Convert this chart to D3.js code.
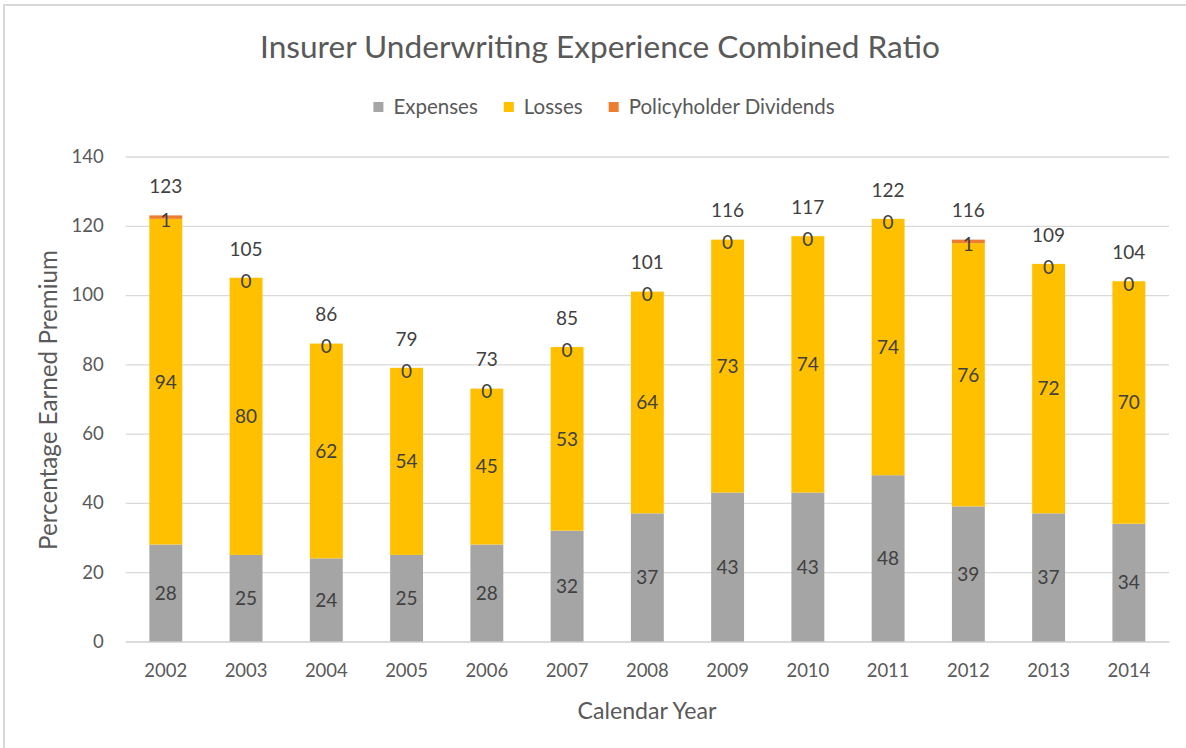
<!DOCTYPE html>
<html><head><meta charset="utf-8">
<script src="https://cdn.jsdelivr.net/npm/d3@7"></script>
<style>
html,body{margin:0;padding:0;background:#fff;}
svg{display:block;font-family:Lato,"Open Sans",sans-serif;}
</style></head>
<body>
<svg id="chart" width="1186" height="748"></svg>
<script>
const years = ["2002","2003","2004","2005","2006","2007","2008","2009","2010","2011","2012","2013","2014"];
const expenses = [28,25,24,25,28,32,37,43,43,48,39,37,34];
const losses = [94,80,62,54,45,53,64,73,74,74,76,72,70];
const dividends = [1,0,0,0,0,0,0,0,0,0,1,0,0];
const totals = [123,105,86,79,73,85,101,116,117,122,116,109,104];
const seriesNames = ["Expenses","Losses","Policyholder Dividends"];
const seriesColors = ["#A5A5A5","#FFC000","#ED7D31"];
const yTicks = [0,20,40,60,80,100,120,140];
const titleText = "Insurer Underwriting Experience Combined Ratio";
const yTitle = "Percentage Earned Premium";
const xTitle = "Calendar Year";

const svg = d3.select("#chart");
const W = 1186, H = 748;

// chart border (left/top visible)
svg.append("rect").attr("x",4).attr("y",5).attr("width",W+10).attr("height",H+10)
  .attr("fill","#fff").attr("stroke","#d9d9d9").attr("stroke-width",2);

const x = d3.scaleBand().domain(years).range([125.7,1169]).paddingInner(0.59).paddingOuter(0.295);
const y = d3.scaleLinear().domain([0,140]).range([641.5,156.5]);

function fit(sel, target){
  const w = sel.node().getComputedTextLength();
  const fs = parseFloat(sel.attr("font-size"));
  sel.attr("font-size", fs*target/w);
  return fs*target/w;
}

// title
const t = svg.append("text").attr("x",600).attr("y",58).attr("text-anchor","middle")
  .attr("font-size",30).attr("fill","#595959").text(titleText);
fit(t,680);

// gridlines
const yAxis = d3.axisLeft(y).tickValues(yTicks).tickSize(-(1169-125.7)).tickPadding(22);
const gy = svg.append("g").attr("transform","translate(125.7,0)").call(yAxis);
gy.select(".domain").remove();
gy.selectAll(".tick line").attr("stroke","#d9d9d9").attr("stroke-width",1.3);
gy.selectAll(".tick text").attr("fill","#595959").attr("font-size",18.5).attr("font-family","Lato,'Open Sans',sans-serif");

// x axis
const xAxis = d3.axisBottom(x).tickSize(0).tickPadding(22);
const gx = svg.append("g").attr("transform","translate(0,641.5)").call(xAxis);
gx.select(".domain").attr("stroke","#d9d9d9").attr("stroke-width",1.3);
gx.selectAll(".tick text").attr("fill","#595959").attr("font-size",18.5).attr("font-family","Lato,'Open Sans',sans-serif");

// stacked data
const rows = years.map((yr,i)=>({year:yr, Expenses:expenses[i], Losses:losses[i], "Policyholder Dividends":dividends[i], total:totals[i]}));
const stack = d3.stack().keys(seriesNames)(rows);

const layers = svg.append("g").selectAll("g").data(stack).join("g")
  .attr("fill",(d,i)=>seriesColors[i]);
layers.selectAll("rect").data(d=>d).join("rect")
  .attr("x",d=>x(d.data.year)).attr("width",x.bandwidth())
  .attr("y",d=>y(d[1])).attr("height",d=>y(d[0])-y(d[1]));

// segment labels
stack.forEach((layer,li)=>{
  svg.append("g").selectAll("text").data(layer).join("text")
    .attr("x",d=>x(d.data.year)+x.bandwidth()/2)
    .attr("y",d=>y((d[0]+d[1])/2) + (li===2?3:0))
    .attr("dy","0.36em")
    .attr("text-anchor","middle").attr("font-size",19).attr("fill","#404040")
    .text(d=>d.data[seriesNames[li]]);
});

// total labels
svg.append("g").selectAll("text").data(rows).join("text")
  .attr("x",d=>x(d.year)+x.bandwidth()/2)
  .attr("y",d=>y(d.total)-29).attr("dy","0.36em")
  .attr("text-anchor","middle").attr("font-size",19).attr("fill","#404040")
  .text(d=>d.total);

// axis titles
const yt = svg.append("text").attr("transform","translate(57,400) rotate(-90)")
  .attr("text-anchor","middle").attr("font-size",18).attr("fill","#595959").text(yTitle);
fit(yt,300);
const xt = svg.append("text").attr("x",647).attr("y",719)
  .attr("text-anchor","middle").attr("font-size",18).attr("fill","#595959").text(xTitle);
fit(xt,139);

// legend
const probe = svg.append("text").attr("font-size",17).text(seriesNames[2]);
const lfs = fit(probe,206);
probe.remove();
const lg = svg.append("g");
let cx = 0;
seriesNames.forEach((n,i)=>{
  const g = lg.append("g").attr("transform",`translate(${cx},0)`);
  g.append("rect").attr("x",0).attr("y",-5).attr("width",10).attr("height",10).attr("fill",seriesColors[i]);
  const tx = g.append("text").attr("x",20).attr("y",0).attr("dy","0.36em").attr("font-size",lfs).attr("fill","#595959").text(n);
  cx += 20 + tx.node().getComputedTextLength() + 26;
});
const lw = cx - 26;
lg.attr("transform",`translate(${604 - lw/2},107)`);
</script>
</body></html>
